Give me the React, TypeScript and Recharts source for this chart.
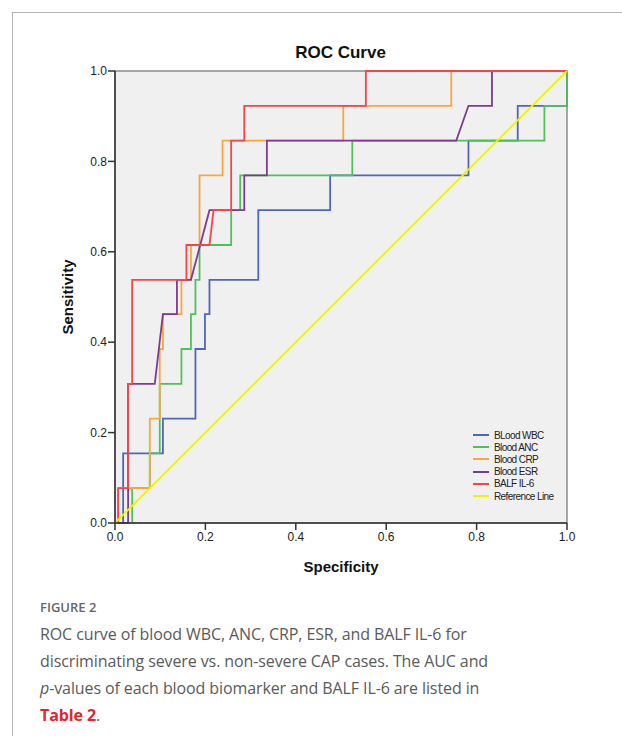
import React from 'react';
import { LineChart, Line, XAxis, YAxis, ReferenceArea, Label } from 'recharts';

const TICKS = [0, 0.2, 0.4, 0.6, 0.8, 1.0];

// x = 1 - specificity, y = sensitivity
const wbcX = [0, 0.018, 0.018, 0.106, 0.106, 0.178, 0.178, 0.199, 0.199, 0.209, 0.209, 0.317, 0.317, 0.476, 0.476, 0.782, 0.782, 0.891, 0.891, 1, 1];
const wbcY = [0, 0, 0.154, 0.154, 0.231, 0.231, 0.385, 0.385, 0.462, 0.462, 0.538, 0.538, 0.692, 0.692, 0.769, 0.769, 0.846, 0.846, 0.923, 0.923, 1];

const ancX = [0, 0.038, 0.038, 0.077, 0.077, 0.099, 0.099, 0.147, 0.147, 0.168, 0.168, 0.178, 0.178, 0.187, 0.187, 0.257, 0.257, 0.277, 0.277, 0.525, 0.525, 0.95, 0.95, 1, 1];
const ancY = [0, 0, 0.077, 0.077, 0.154, 0.154, 0.308, 0.308, 0.385, 0.385, 0.462, 0.462, 0.538, 0.538, 0.615, 0.615, 0.692, 0.692, 0.769, 0.769, 0.846, 0.846, 0.923, 0.923, 1];

const crpX = [0, 0.007, 0.007, 0.077, 0.077, 0.099, 0.099, 0.106, 0.106, 0.147, 0.147, 0.168, 0.168, 0.187, 0.187, 0.238, 0.238, 0.505, 0.505, 0.744, 0.744, 1];
const crpY = [0, 0, 0.077, 0.077, 0.231, 0.231, 0.385, 0.385, 0.462, 0.462, 0.538, 0.538, 0.615, 0.615, 0.769, 0.769, 0.846, 0.846, 0.923, 0.923, 1, 1];

const esrX = [0, 0.029, 0.029, 0.088, 0.106, 0.137, 0.137, 0.168, 0.209, 0.286, 0.286, 0.336, 0.336, 0.755, 0.782, 0.834, 0.834, 1];
const esrY = [0, 0, 0.308, 0.308, 0.462, 0.462, 0.538, 0.538, 0.692, 0.692, 0.769, 0.769, 0.846, 0.846, 0.923, 0.923, 1, 1];

const il6X = [0, 0.007, 0.007, 0.029, 0.029, 0.038, 0.038, 0.158, 0.158, 0.209, 0.218, 0.257, 0.257, 0.286, 0.286, 0.555, 0.555, 1];
const il6Y = [0, 0, 0.077, 0.077, 0.308, 0.308, 0.538, 0.538, 0.615, 0.615, 0.692, 0.692, 0.846, 0.846, 0.923, 0.923, 1, 1];

const refX = [0, 1];
const refY = [0, 1];

const zip = (xs: number[], ys: number[]) => xs.map((x, i) => ({ x, y: ys[i] }));

const SERIES = [
  { name: 'BLood WBC', color: '#4f67b8', data: zip(wbcX, wbcY) },
  { name: 'Blood ANC', color: '#4fc257', data: zip(ancX, ancY) },
  { name: 'Blood CRP', color: '#f8a63e', data: zip(crpX, crpY) },
  { name: 'Blood ESR', color: '#7d3b90', data: zip(esrX, esrY) },
  { name: 'BALF IL-6', color: '#f2454c', data: zip(il6X, il6Y) },
  { name: 'Reference Line', color: '#f2f200', data: zip(refX, refY) },
];

const FONT = '"Liberation Sans", Arial, sans-serif';

export default function App() {
  return (
    <div style={{ position: 'absolute', left: 0, top: 0, width: 622, height: 736, background: '#fff', overflow: 'hidden' }}>
      {/* card frame */}
      <div style={{ position: 'absolute', left: 12, top: 12, right: -20, bottom: -20, borderTop: '1px solid #b5b5b5', borderLeft: '1px solid #b5b5b5' }} />

      <div style={{ position: 'absolute', left: 0, top: 43, width: 681, textAlign: 'center', fontFamily: FONT, fontWeight: 'bold', fontSize: 17, color: '#111' }}>
        ROC Curve
      </div>

      <div style={{ position: 'absolute', left: 0, top: 0 }}>
        <LineChart width={622} height={590} margin={{ top: 71, right: 55, bottom: 37, left: 75 }}>
          <XAxis
            type="number"
            dataKey="x"
            domain={[0, 1]}
            ticks={TICKS}
            tickFormatter={(v: number) => v.toFixed(1)}
            allowDuplicatedCategory={false}
            height={30}
            tickSize={7}
            tickMargin={2}
            stroke="#333"
            strokeWidth={1.5}
            tick={{ fill: '#222', fontSize: 12, fontFamily: FONT }}
          >
            <Label value="Specificity" position="bottom" offset={8} style={{ fontFamily: FONT, fontWeight: 'bold', fontSize: 15, fill: '#111' }} />
          </XAxis>
          <YAxis
            type="number"
            dataKey="y"
            domain={[0, 1]}
            ticks={TICKS}
            tickFormatter={(v: number) => v.toFixed(1)}
            width={40}
            tickSize={7}
            tickMargin={1}
            stroke="#333"
            strokeWidth={1.5}
            tick={{ fill: '#222', fontSize: 12, fontFamily: FONT }}
          >
            <Label value="Sensitivity" angle={-90} position="left" offset={7} style={{ fontFamily: FONT, fontWeight: 'bold', fontSize: 15, fill: '#111', textAnchor: 'middle' }} />
          </YAxis>
          <ReferenceArea x1={0} x2={1} y1={0} y2={1} fill="#f0f0f0" fillOpacity={1} stroke="#8a8a8a" strokeWidth={1.5} />
          {SERIES.map((s) => (
            <Line
              key={s.name}
              data={s.data}
              dataKey="y"
              name={s.name}
              type="linear"
              stroke={s.color}
              strokeWidth={1.8}
              dot={false}
              activeDot={false}
              isAnimationActive={false}
            />
          ))}
        </LineChart>
      </div>

      {/* legend */}
      <div style={{ position: 'absolute', left: 473, top: 429, fontFamily: FONT, fontSize: 10, letterSpacing: -0.6, color: '#222' }}>
        {SERIES.map((s) => (
          <div key={s.name} style={{ display: 'flex', alignItems: 'center', height: 12.2 }}>
            <span style={{ display: 'inline-block', width: 16, height: 2, background: s.color, marginRight: 5 }} />
            <span>{s.name}</span>
          </div>
        ))}
      </div>

      {/* caption */}
      <div style={{ position: 'absolute', left: 40, top: 598, fontFamily: '"Open Sans", sans-serif', color: '#5a5a5a' }}>
        <div style={{ fontSize: 13, fontWeight: 600, color: '#666', marginBottom: 5 }}>FIGURE 2</div>
        <div style={{ fontSize: 16, lineHeight: '27px', letterSpacing: -0.1, whiteSpace: 'nowrap', fontWeight: 400 }}>
          ROC curve of blood WBC, ANC, CRP, ESR, and BALF IL-6 for<br />
          discriminating severe vs. non-severe CAP cases. The AUC and<br />
          <i>p</i>-values of each blood biomarker and BALF IL-6 are listed in<br />
          <span style={{ color: '#e0262b', fontWeight: 700 }}>Table 2</span>.
        </div>
      </div>
    </div>
  );
}
